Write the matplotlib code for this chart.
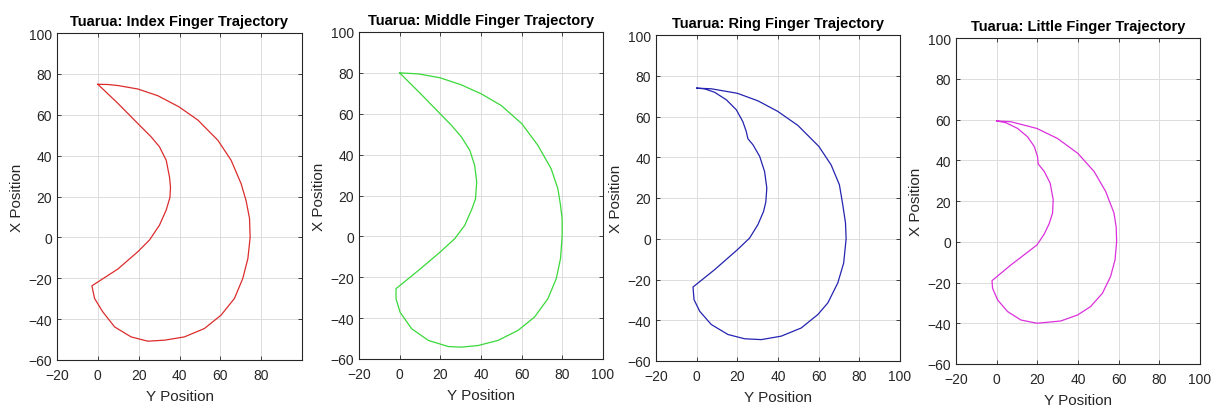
import matplotlib
matplotlib.use('Agg')
import matplotlib.pyplot as plt

plt.rcParams['font.family'] = ['Liberation Sans', 'DejaVu Sans']

# -----------------------
# DATA (Y position -> horizontal, X position -> vertical)
# -----------------------
index_y = [0, 4.9, 9.8, 19.6, 29.4, 39.7, 49.0, 58.8, 65.3, 70.2, 72.6, 74.3, 74.6, 73.5, 71.0,
           66.9, 60.4, 52.2, 42.4, 32.7, 24.5, 16.3, 8.2, 2.4, -1.6, -2.9,
           9.8, 19.6, 25.3, 30.2, 33.5, 35.3, 35.6, 35.1, 33.5, 30.2, 26.1, 19.6, 9.8, 0]
index_x = [74.9, 74.8, 74.3, 72.6, 69.3, 63.9, 57.4, 47.5, 37.7, 26.2, 18.0, 9.3, 0, -10.3, -20.1,
           -29.9, -38.0, -44.6, -48.7, -50.3, -50.8, -48.7, -43.8, -36.4, -29.9, -23.7,
           -15.5, -7.0, -1.3, 6.0, 13.4, 19.5, 24.5, 29.5, 37.7, 44.3, 49.2, 55.7, 65.6, 74.9]

middle_y = [0, 9.2, 19.9, 30.4, 40.2, 50.0, 60.1, 68.0, 74.5, 77.8, 79.0, 79.9, 79.9, 79.1, 77.0,
            72.9, 66.3, 58.2, 48.4, 38.6, 30.4, 23.9, 14.1, 5.9, 0.2, -1.8, -1.8,
            9.2, 19.9, 27.1, 32.0, 35.6, 37.3, 37.9, 36.9, 34.5, 30.4, 25.5, 19.9, 10.0, 0]
middle_x = [80.0, 79.5, 77.6, 74.1, 69.7, 64.0, 55.1, 44.5, 33.1, 23.3, 16.0, 8.7, 0, -10.9, -20.7,
            -30.5, -39.5, -46.0, -50.9, -53.4, -54.2, -53.9, -50.9, -45.2, -37.1, -30.5, -25.6,
            -16.7, -7.7, -1.1, 5.4, 13.6, 18.4, 26.6, 34.7, 42.1, 48.6, 54.3, 60.0, 70.1, 80.0]

ring_y = [0, 7.2, 20.0, 30.1, 39.9, 49.8, 60.1, 66.1, 70.2, 71.8, 73.2, 73.5, 72.3, 69.4, 64.5,
          59.6, 51.4, 41.6, 31.8, 23.6, 15.4, 7.2, 1.5, -1.3, -1.8,
          8.8, 20.0, 26.0, 30.1, 32.9, 34.0, 34.5, 33.4, 31.0, 27.7, 25.2,
          24.4, 22.7, 19.5, 14.6, 8.8, 3.9, 0]
ring_x = [73.9, 73.6, 71.4, 67.7, 62.5, 55.6, 45.3, 36.3, 26.5, 17.0, 7.7, 0, -11.9, -21.7, -31.5,
          -37.2, -43.8, -47.8, -49.5, -49.1, -47.0, -42.1, -35.6, -29.9, -23.7,
          -15.2, -5.4, 0.3, 6.9, 13.4, 18.0, 24.9, 33.0, 40.4, 46.1, 49.1,
          52.6, 57.5, 63.3, 68.2, 71.9, 73.6, 73.9]

little_y = [0, 7.0, 19.8, 29.9, 39.9, 47.9, 53.6, 57.7, 58.8, 59.0, 58.2, 56.0, 52.0, 46.2, 39.9,
            31.5, 19.8, 11.9, 5.4, 0.5, -2.0, -2.3,
            7.0, 19.8, 23.4, 25.8, 27.5, 27.8, 26.3, 23.4, 20.4,
            20.1, 18.5, 15.2, 10.3, 4.6, 0]
little_x = [59.3, 58.9, 55.6, 50.7, 43.4, 34.5, 24.7, 14.1, 7.0, 0, -9.0, -17.1, -25.3, -31.8, -35.9,
            -38.9, -40.0, -38.4, -34.3, -28.6, -22.9, -19.1,
            -11.4, -1.6, 3.8, 8.8, 14.1, 20.7, 28.8, 34.5, 38.2,
            41.8, 46.7, 51.5, 55.6, 58.4, 59.3]

titles = ["Tuarua: Index Finger Trajectory", "Tuarua: Middle Finger Trajectory",
          "Tuarua: Ring Finger Trajectory", "Tuarua: Little Finger Trajectory"]
colors = ["#dc2c2c", "#3ad83a", "#2424b0", "#dc30dc"]

# axes placement in pixels: left, top, right, bottom
boxes = [(57, 34, 302, 361), (359, 33, 603, 360), (656, 36, 900, 362), (956, 39, 1200, 365)]

W, H = 1220, 410
fig = plt.figure(figsize=(W / 100, H / 100), dpi=100, facecolor='white')

series = [(index_y, index_x), (middle_y, middle_x), (ring_y, ring_x), (little_y, little_x)]
TXT = "#262626"

for i, ((ys, xs), title, col, box) in enumerate(zip(series, titles, colors, boxes)):
    l, t, r, b = box
    ax = fig.add_axes([l / W, 1 - b / H, (r - l) / W, (b - t) / H])
    ax.plot(ys, xs, color=col, lw=0.9)
    ax.set_xlim(-20, 100)
    ax.set_ylim(-60, 100)
    if i == 0:
        ax.set_xticks([-20, 0, 20, 40, 60, 80])
    else:
        ax.set_xticks([-20, 0, 20, 40, 60, 80, 100])
    ax.set_yticks([-60, -40, -20, 0, 20, 40, 60, 80, 100])
    ax.grid(True, color='#dcdcdc', lw=0.7)
    ax.set_axisbelow(True)
    ax.tick_params(direction='in', top=True, right=True, length=3, width=0.6,
                   colors=TXT, labelsize=10, labelcolor=TXT)
    ax.tick_params(axis='x', pad=6)
    for s in ax.spines.values():
        s.set_color(TXT)
        s.set_linewidth(0.8)
    ax.set_title(title, fontsize=10.5, fontweight='bold', color='black', pad=6)
    ax.set_xlabel("Y Position", fontsize=11, color=TXT, labelpad=5)
    ax.set_ylabel("X Position", fontsize=11, color=TXT, labelpad=3)

plt.savefig("out.png", dpi=100)
plt.close()
